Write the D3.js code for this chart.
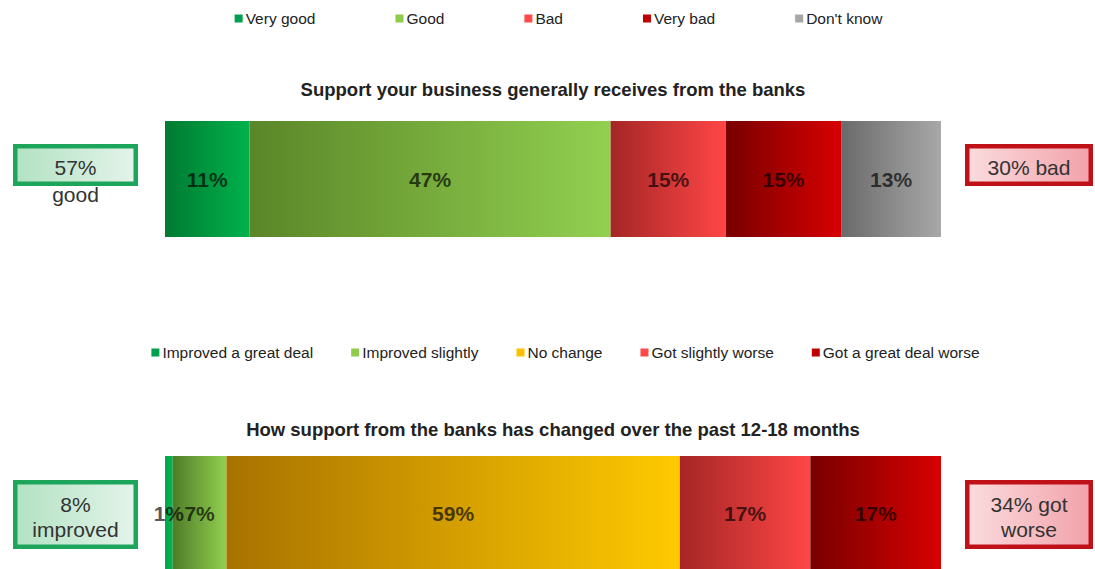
<!DOCTYPE html>
<html>
<head>
<meta charset="utf-8">
<script src="https://cdn.jsdelivr.net/npm/d3@7"></script>
<style>
  html, body { margin: 0; padding: 0; background: #fff; }
  svg { display: block; font-family: "Liberation Sans", Arial, sans-serif; }
</style>
</head>
<body>
<svg id="chart" width="1095" height="569"></svg>
<script>
// ---- data ----
const ratingCategories = ["Very good", "Good", "Bad", "Very bad", "Don't know"];
const ratingValues = [11, 47, 15, 15, 13];
const ratingTitle = "Support your business generally receives from the banks";
const ratingSummaryLeft = ["57%", "good"];
const ratingSummaryRight = ["30% bad"];

const changeCategories = ["Improved a great deal", "Improved slightly", "No change", "Got slightly worse", "Got a great deal worse"];
const changeValues = [1, 7, 59, 17, 17];
const changeTitle = "How support from the banks has changed over the past 12-18 months";
const changeSummaryLeft = ["8%", "improved"];
const changeSummaryRight = ["34% got", "worse"];

// ---- styling ----
// [dark edge, light edge, legend swatch] for each segment
const ratingColors = [
  ["#007a32", "#00b24c", "#00a050"],
  ["#5a8628", "#92d050", "#8fcc4c"],
  ["#a52626", "#ff4646", "#ff4a4a"],
  ["#780000", "#d80000", "#c00000"],
  ["#6a6a6a", "#a8a8a8", "#a6a6a6"]
];
const changeColors = [
  ["#00a84a", "#00b450", "#00a050"],
  ["#4f7c28", "#92d050", "#8fcc4c"],
  ["#a87200", "#ffca00", "#ffc000"],
  ["#a52626", "#ff4646", "#ff4a4a"],
  ["#780000", "#d80000", "#c00000"]
];

const svg = d3.select("#chart");
const defs = svg.append("defs");

const barLeft = 165, barRight = 941;
const barHeight = 116;

function gradient(id, c0, c1) {
  const g = defs.append("linearGradient").attr("id", id)
    .attr("x1", 0).attr("x2", 1).attr("y1", 0).attr("y2", 0);
  g.append("stop").attr("offset", "0%").attr("stop-color", c0);
  g.append("stop").attr("offset", "100%").attr("stop-color", c1);
}

gradient("boxGood", "#b2e2c2", "#e4f3ea");
gradient("boxBad", "#fadcde", "#f2a2aa");

function legend(categories, colors, cx, baseline, gap) {
  const g = svg.append("g");
  const items = g.selectAll("g").data(categories).join("g");
  items.append("rect")
    .attr("x", 0).attr("y", baseline - 9.5)
    .attr("width", 8).attr("height", 8)
    .attr("fill", (d, i) => colors[i][2]);
  items.append("text")
    .attr("x", 11).attr("y", baseline)
    .attr("font-size", 15.5).attr("fill", "#222")
    .text(d => d);
  let x = 0;
  const offsets = [];
  items.each(function () {
    const w = 11 + d3.select(this).select("text").node().getComputedTextLength();
    offsets.push(x);
    x += w + gap;
  });
  const total = x - gap;
  items.attr("transform", (d, i) => `translate(${cx - total / 2 + offsets[i]},0)`);
}

function stackedBar(id, categories, values, colors, top, labelBaseline) {
  const total = d3.sum(values);
  const x = d3.scaleLinear().domain([0, total]).range([barLeft, barRight]);
  const starts = d3.cumsum([0].concat(values.slice(0, -1)));
  const segs = values.map((v, i) => ({ v, start: starts[i], cat: categories[i], i }));
  segs.forEach(s => gradient(`${id}-g${s.i}`, colors[s.i][0], colors[s.i][1]));
  const g = svg.append("g");
  g.selectAll("rect").data(segs).join("rect")
    .attr("x", d => x(d.start))
    .attr("y", top)
    .attr("width", d => x(d.start + d.v) - x(d.start))
    .attr("height", barHeight)
    .attr("fill", d => `url(#${id}-g${d.i})`);
  g.selectAll("text").data(segs).join("text")
    .attr("x", d => x(d.start + d.v / 2))
    .attr("y", labelBaseline)
    .attr("text-anchor", "middle")
    .attr("font-size", 21)
    .attr("font-weight", "bold")
    .attr("fill", "#000")
    .attr("fill-opacity", 0.68)
    .text(d => d.v + "%");
}

function summaryBox(x, y, w, h, fill, stroke, lines, baselines) {
  svg.append("rect")
    .attr("x", x + 2.25).attr("y", y + 2.25)
    .attr("width", w - 4.5).attr("height", h - 4.5)
    .attr("fill", fill).attr("stroke", stroke).attr("stroke-width", 4.5);
  lines.forEach((t, i) => {
    svg.append("text")
      .attr("x", x + w / 2).attr("y", baselines[i])
      .attr("text-anchor", "middle")
      .attr("font-size", 21).attr("fill", "#333")
      .text(t);
  });
}

function title(text, baseline) {
  svg.append("text")
    .attr("x", (barLeft + barRight) / 2).attr("y", baseline)
    .attr("text-anchor", "middle")
    .attr("font-size", 18.5).attr("font-weight", "bold").attr("fill", "#222")
    .text(text);
}

// ---- top panel ----
legend(ratingCategories, ratingColors, 558.5, 24, 80);
title(ratingTitle, 96);
stackedBar("rating", ratingCategories, ratingValues, ratingColors, 121, 187);
summaryBox(13, 144, 125, 42, "url(#boxGood)", "#1ea55c", ratingSummaryLeft, [175, 202]);
summaryBox(965, 144, 128, 42, "url(#boxBad)", "#c01018", ratingSummaryRight, [175]);

// ---- bottom panel ----
legend(changeCategories, changeColors, 565.5, 358, 38);
title(changeTitle, 436);
stackedBar("change", changeCategories, changeValues, changeColors, 456, 521);
summaryBox(13, 480, 125, 69, "url(#boxGood)", "#1ea55c", changeSummaryLeft, [512, 537]);
summaryBox(965, 480, 128, 69, "url(#boxBad)", "#c01018", changeSummaryRight, [512, 537]);
</script>
</body>
</html>
